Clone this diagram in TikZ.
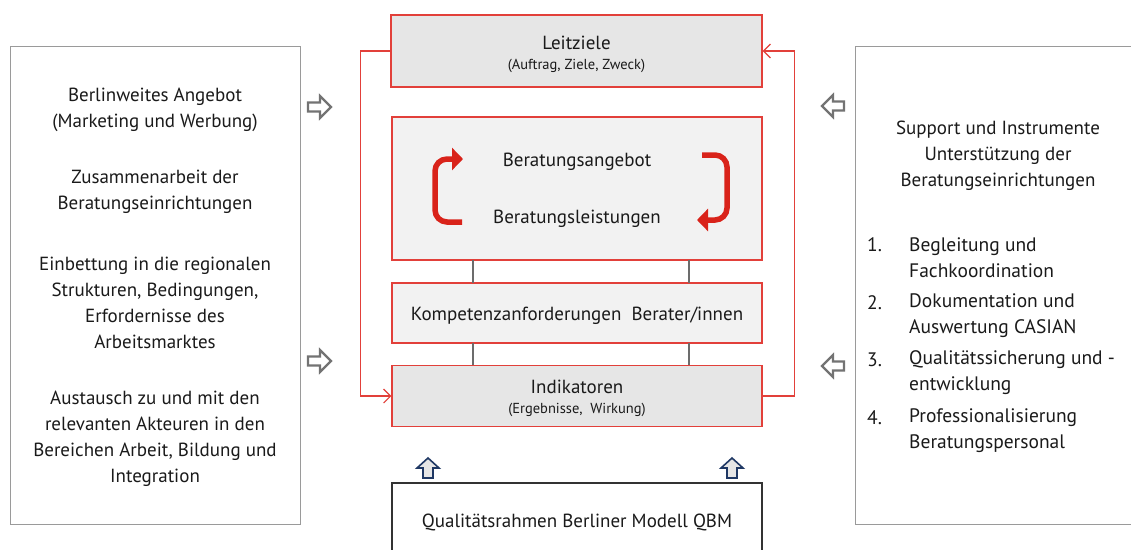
\documentclass[tikz,border=0pt]{standalone}
\usepackage{fontspec}
\setmainfont{PT Sans}
\usetikzlibrary{arrows.meta}
\definecolor{boxred}{HTML}{E2403A}
\definecolor{arrred}{HTML}{D9231A}
\definecolor{sidegrey}{HTML}{9A9A9A}
\definecolor{fillA}{HTML}{E6E6E6}
\definecolor{fillB}{HTML}{F2F2F2}
\definecolor{navy}{HTML}{1F3864}
\definecolor{txt}{HTML}{1A1A1A}
\tikzset{
  redbox/.style={draw=boxred, line width=1.4pt, rectangle, inner sep=0pt},
  sidebox/.style={draw=sidegrey, line width=1pt, rectangle, fill=white, inner sep=0pt},
  big/.style={font=\fontsize{19}{26}\selectfont, text=txt, align=center, inner sep=0pt},
  small/.style={font=\fontsize{14.5}{17}\selectfont, text=txt, align=center, inner sep=0pt},
  listtxt/.style={font=\fontsize{19.5}{26}\selectfont, text=txt, align=left, anchor=west, inner sep=0pt},
  feedback/.style={draw=boxred, line width=1.1pt, -{Straight Barb[length=7pt,width=14pt,line width=1.1pt]}},
  greylink/.style={draw=gray!85!black, line width=2.4pt},
  cycle arrow/.style={draw=arrred, line width=5.5pt, rounded corners=12pt, -{Triangle[length=11pt,width=22pt]}},
  blockR/.style={draw=gray!90!black, line width=2.2pt, fill=white, line join=miter},
  blockU/.style={draw=navy, line width=1.6pt, fill=fillA, line join=miter},
}
\begin{document}
\begin{tikzpicture}[x=1pt,y=-1pt]
\useasboundingbox (0,0) rectangle (1131,549);
\clip (0,0) rectangle (1131,549);
\fill[white] (0,0) rectangle (1131,549);
% side boxes
\node[sidebox, minimum width=290pt, minimum height=478pt] (left) at (155,285) {};
\node[sidebox, minimum width=290pt, minimum height=478pt] (right) at (1000,285) {};
% centre boxes
\node[redbox, fill=fillA, minimum width=371pt, minimum height=72pt] (lz) at (576.5,51) {};
\node[redbox, fill=fillB, minimum width=370pt, minimum height=143pt] (ber) at (577,188.5) {};
\node[redbox, fill=fillB, minimum width=370pt, minimum height=60pt] (komp) at (577,313) {};
\node[redbox, fill=fillA, minimum width=370pt, minimum height=61pt] (ind) at (577,396) {};
\node[draw=black!80, line width=1.4pt, rectangle, fill=white, minimum width=370pt, minimum height=100pt, inner sep=0pt] (qbm) at (577,533) {};
% grey links
\draw[greylink] (473,260) coordinate (g1) -- (473,283) coordinate (g2);
\draw[greylink] (689,260) coordinate (g3) -- (689,283) coordinate (g4);
\draw[greylink] (473,343) coordinate (g5) -- (473,365) coordinate (g6);
\draw[greylink] (689,343) coordinate (g7) -- (689,365) coordinate (g8);
% feedback loop
\draw[feedback] (lz.west) -- ++(-30,0) |- (ind.west);
\draw[feedback] (ind.east) -- ++(32,0) |- (lz.east);
% texts in boxes
\node[big] (t1) at (576.5,43) {Leitziele};
\node[small] (t2) at (576.5,66) {(Auftrag, Ziele, Zweck)};
\node[big] (t3) at (577,162) {Beratungsangebot};
\node[big] (t4) at (577,219) {Beratungsleistungen};
\node[big] (t5) at (577,316) {Kompetenzanforderungen\ \ Berater/innen};
\node[big] (t6) at (577,387) {Indikatoren};
\node[small] (t7) at (577,410) {(Ergebnisse,\ \ Wirkung)};
\node[big] (t8) at (577,522) {Qualitätsrahmen Berliner Modell QBM};
% cycle arrows
\draw[cycle arrow] (462,222) -| (435,159) -- (463,159);
\draw[cycle arrow] (702,155) -| (727,220) -- (697,220);
% left texts
\node[big] (l1) at (155,110) {Berlinweites Angebot\\(Marketing und Werbung)};
\node[big] (l2) at (155,192) {Zusammenarbeit der\\Beratungseinrichtungen};
\node[big] (l3) at (155,303) {Einbettung in die regionalen\\Strukturen, Bedingungen,\\Erfordernisse des\\Arbeitsmarktes};
\node[big] (l4) at (155,439) {Austausch zu und mit den\\relevanten Akteuren in den\\Bereichen Arbeit, Bildung und\\Integration};
% right texts
\node[big] (r0) at (998,156) {Support und Instrumente\\Unterstützung der\\Beratungseinrichtungen};
\node[listtxt] (n1) at (867,245) {1.};
\node[listtxt] (n2) at (867,303) {2.};
\node[listtxt] (n3) at (867,360) {3.};
\node[listtxt] (n4) at (867,418) {4.};
\node[listtxt] (i1) at (909,258) {Begleitung und\\Fachkoordination};
\node[listtxt] (i2) at (909,315.5) {Dokumentation und\\Auswertung CASIAN};
\node[listtxt] (i3) at (909,373) {Qualitätssicherung und -\\entwicklung};
\node[listtxt] (i4) at (909,431) {Professionalisierung\\Beratungspersonal};
% block arrows pointing right
\foreach \cy in {107,361}{
  \draw[blockR] (308,\cy-4.5) -- (320,\cy-4.5) -- (320,\cy-11) -- (331,\cy) -- (320,\cy+11) -- (320,\cy+4.5) -- (308,\cy+4.5) -- cycle;
}
% block arrows pointing left
\foreach \cy in {106,366}{
  \draw[blockR] (844,\cy-4.5) -- (833,\cy-4.5) -- (833,\cy-11) -- (822,\cy) -- (833,\cy+11) -- (833,\cy+4.5) -- (844,\cy+4.5) -- cycle;
}
% up arrows
\foreach \cx in {428,732}{
  \draw[blockU] (\cx-5,478) -- (\cx-5,468) -- (\cx-11,468) -- (\cx,458) -- (\cx+11,468) -- (\cx+5,468) -- (\cx+5,478) -- cycle;
}
\end{tikzpicture}
\end{document}
